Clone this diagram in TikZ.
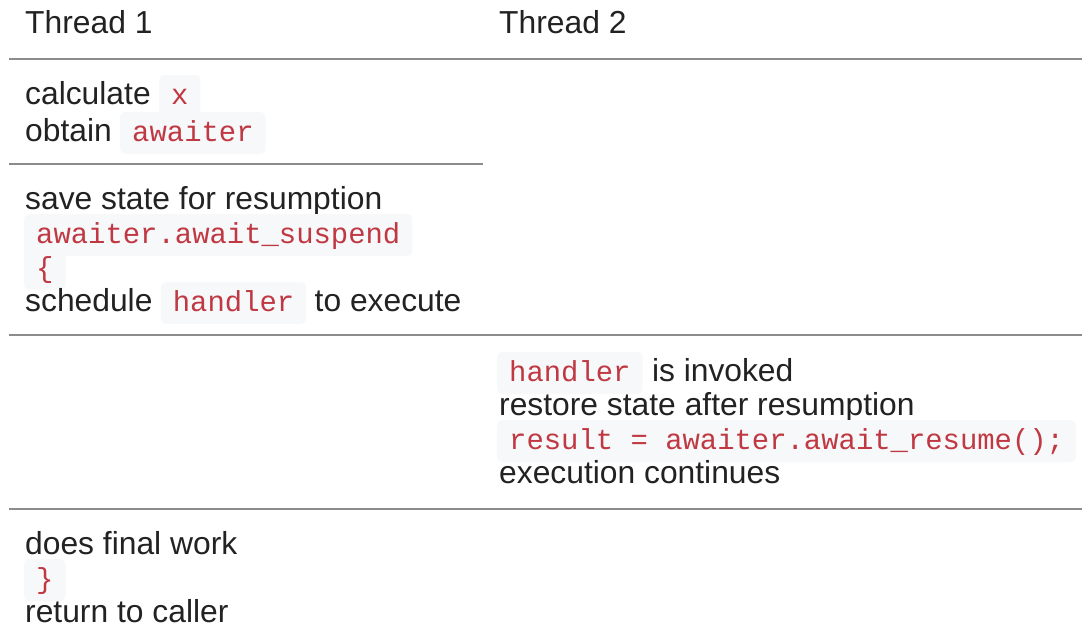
\documentclass[tikz,border=0pt]{standalone}
\usepackage{fontspec}
\setmainfont{Liberation Sans}
\setmonofont{Liberation Mono}
\definecolor{txt}{RGB}{34,34,34}
\definecolor{codered}{RGB}{192,56,66}
\definecolor{codebg}{RGB}{246,248,250}
\definecolor{rulegray}{RGB}{140,140,140}
\tikzset{
  txtnode/.style={anchor=base west, inner sep=0pt, text=txt, font=\fontsize{31.8}{34}\selectfont},
  codenode/.style={anchor=base west, inner xsep=12pt, inner ysep=0pt, text height=29pt, text depth=13pt,
    fill=codebg, rounded corners=5pt, text=codered, font=\ttfamily\fontsize{28.9}{34}\selectfont},
  rowrule/.style={draw=rulegray, line width=2pt}
}
\begin{document}
\begin{tikzpicture}[x=1pt, y=-1pt]
\useasboundingbox (0,0) rectangle (1082,625);
% header
\node[txtnode] (h1) at (25,33) {Thread 1};
\node[txtnode] (h2) at (499,33) {Thread 2};
\draw[rowrule] (9,59) -- (1082,59);
% row 1
\node[txtnode] (calc) at (25,104) {calculate};
\node[codenode] (cx) at ([xshift=8pt]calc.base east) {x};
\node[txtnode] (obt) at (25,141) {obtain};
\node[codenode] (caw) at ([xshift=8pt]obt.base east) {awaiter};
\draw[rowrule] (9,164) -- (483,164);
% row 2
\node[txtnode] (save) at (25,209) {save state for resumption};
\node[codenode] (csusp) at (24,243) {awaiter.await\_suspend};
\node[codenode] (cbrace) at (24,277) {\{};
\node[txtnode] (sched) at (25,311) {schedule};
\node[codenode] (chand) at ([xshift=8pt]sched.base east) {handler};
\node[txtnode] (exe) at ([xshift=8pt]chand.base east) {to execute};
\draw[rowrule] (9,335) -- (1082,335);
% row 3
\node[codenode] (chand2) at (497,381) {handler};
\node[txtnode] (inv) at ([xshift=9pt]chand2.base east) {is invoked};
\node[txtnode] (rest) at (499,415) {restore state after resumption};
\node[codenode] (cres) at (497,449) {result = awaiter.await\_resume();};
\node[txtnode] (cont) at (499,483) {execution continues};
\draw[rowrule] (9,509) -- (1082,509);
% row 4
\node[txtnode] (fin) at (25,554) {does final work};
\node[codenode] (cbrace2) at (24,588) {\}};
\node[txtnode] (ret) at (25,622) {return to caller};
\end{tikzpicture}
\end{document}
